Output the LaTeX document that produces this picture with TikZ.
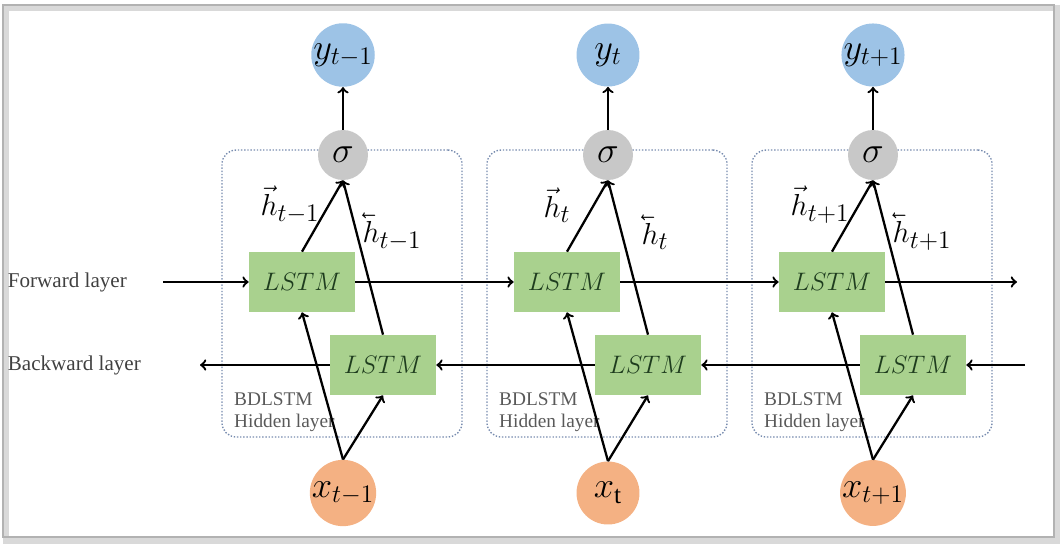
\documentclass[tikz,border=0pt]{standalone}
\usepackage{amsmath}
\usepackage{graphicx}
\usepackage{fontspec}
\setmainfont{Liberation Serif}
\usetikzlibrary{calc}
\definecolor{outblue}{RGB}{157,195,230}
\definecolor{siggray}{RGB}{200,200,200}
\definecolor{lstmgreen}{RGB}{169,209,142}
\definecolor{lstmtext}{RGB}{30,60,30}
\definecolor{inred}{RGB}{244,177,131}
\definecolor{boxblue}{RGB}{120,140,175}
\newcommand{\hfwd}[1]{\vec{h}_{#1}}
\newcommand{\hbwd}[1]{\rlap{\reflectbox{$\vec{\phantom{h}}$}}h_{#1}}
\begin{document}
\begin{tikzpicture}[x=0.02cm,y=-0.02cm,
	outnode/.style={circle,fill=outblue,minimum size=1.26cm,inner sep=0pt,font=\huge},
	signode/.style={circle,fill=siggray,minimum size=1.0cm,inner sep=0pt,font=\huge},
	innode/.style={circle,fill=inred,minimum size=1.26cm,inner sep=0pt,font=\huge},
	lstm/.style={fill=lstmgreen,minimum width=2.12cm,minimum height=1.2cm,text=lstmtext,font=\fontsize{14}{16}\selectfont},
	hidbox/.style={draw=boxblue,densely dotted,thick,rounded corners=8pt,minimum width=4.8cm,minimum height=5.74cm},
	hidtext/.style={align=left,anchor=west,text=black!65,font=\fontsize{11}{12.5}\selectfont},
	layertext/.style={anchor=east,text=black!75,font=\fontsize{12}{14}\selectfont},
	hlabel/.style={font=\fontsize{19}{22}\selectfont},
	conn/.style={line width=1.3pt,->}]
	\useasboundingbox (0,0) rectangle (1063,548);
	% frame with shadow
	\draw[gray!30, line width=3pt] (6,8) rectangle (1057,541);
	\draw[gray!60, line width=1pt] (3,5) rectangle (1054,537);
	% hidden layer boxes
	\node[hidbox] (box1) at (342,293.5) {};
	\node[hidbox] (box2) at (607,293.5) {};
	\node[hidbox] (box3) at (872,293.5) {};
	\node[hidtext] (bd1) at (228,412) {BDLSTM\\Hidden layer};
	\node[hidtext] (bd2) at (493,412) {BDLSTM\\Hidden layer};
	\node[hidtext] (bd3) at (758,412) {BDLSTM\\Hidden layer};
	% outputs
	\node[outnode] (y1) at (343,55) {$y_{t-1}$};
	\node[outnode] (y2) at (608,55) {$y_{t}$};
	\node[outnode] (y3) at (873,55) {$y_{t+1}$};
	\node[signode] (s1) at (343,155) {$\sigma$};
	\node[signode] (s2) at (608,155) {$\sigma$};
	\node[signode] (s3) at (873,155) {$\sigma$};
	% lstm cells
	\node[lstm] (f1) at (302,282) {$LSTM$};
	\node[lstm] (f2) at (567,282) {$LSTM$};
	\node[lstm] (f3) at (832,282) {$LSTM$};
	\node[lstm] (b1) at (383,365) {$LSTM$};
	\node[lstm] (b2) at (648,365) {$LSTM$};
	\node[lstm] (b3) at (913,365) {$LSTM$};
	% inputs
	\node[innode] (x1) at (343,493) {$x_{t-1}$};
	\node[innode] (x2) at (608,493) {$x_{\mathrm{t}}$};
	\node[innode] (x3) at (873,493) {$x_{t+1}$};
	% layer names
	\node[layertext] (fl) at (133,282) {Forward layer};
	\node[layertext] (bl) at (147,365) {Backward layer};
	\coordinate (fs) at (163,282);
	\coordinate (fe) at (1017,282);
	\coordinate (bs) at (1025,365);
	\coordinate (be) at (200,365);
	% forward and backward chains
	\draw[conn] (fs) -- (f1.west);
	\draw[conn] (f1.east) -- (f2.west);
	\draw[conn] (f2.east) -- (f3.west);
	\draw[conn] (f3.east) -- (fe);
	\draw[conn] (bs) -- (b3.east);
	\draw[conn] (b3.west) -- (b2.east);
	\draw[conn] (b2.west) -- (b1.east);
	\draw[conn] (b1.west) -- (be);
	% inputs to cells
	\draw[conn] (x1.north) -- (f1.south);
	\draw[conn] (x1.north) -- (b1.south);
	\draw[conn] (x2.north) -- (f2.south);
	\draw[conn] (x2.north) -- (b2.south);
	\draw[conn] (x3.north) -- (f3.south);
	\draw[conn] (x3.north) -- (b3.south);
	% cells to sigma
	\draw[conn] (f1.north) -- (s1.south);
	\draw[conn] (b1.north) -- (s1.south);
	\draw[conn] (f2.north) -- (s2.south);
	\draw[conn] (b2.north) -- (s2.south);
	\draw[conn] (f3.north) -- (s3.south);
	\draw[conn] (b3.north) -- (s3.south);
	% sigma to outputs
	\draw[conn] (s1.north) -- (y1.south);
	\draw[conn] (s2.north) -- (y2.south);
	\draw[conn] (s3.north) -- (y3.south);
	% hidden state labels
	\node[hlabel] (hf1) at (290,205) {$\hfwd{t-1}$};
	\node[hlabel] (hb1) at (392,232) {$\hbwd{t-1}$};
	\node[hlabel] (hf2) at (557,205) {$\hfwd{t}$};
	\node[hlabel] (hb2) at (655,232) {$\hbwd{t}$};
	\node[hlabel] (hf3) at (820,205) {$\hfwd{t+1}$};
	\node[hlabel] (hb3) at (922,232) {$\hbwd{t+1}$};
\end{tikzpicture}
\end{document}
